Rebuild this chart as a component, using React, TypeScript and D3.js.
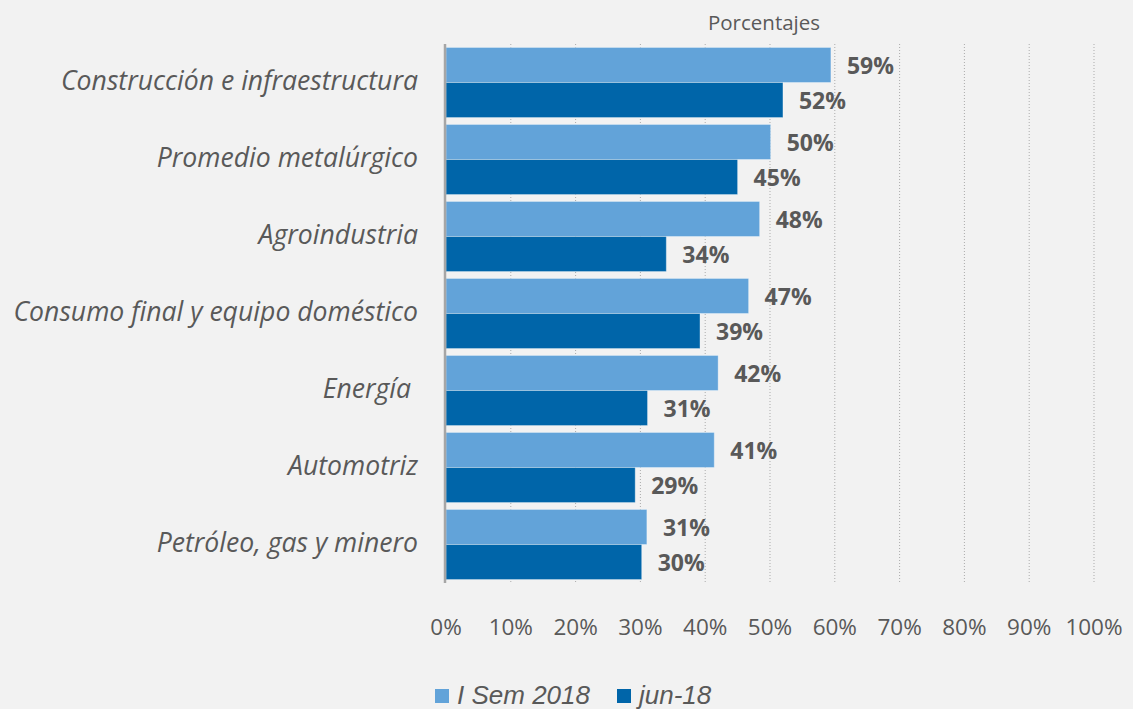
import React from 'react';
import * as d3 from 'd3';

// sectors, top to bottom
const categories = [
  'Construcción e infraestructura',
  'Promedio metalúrgico',
  'Agroindustria',
  'Consumo final y equipo doméstico',
  'Energía ',
  'Automotriz',
  'Petróleo, gas y minero',
];
const semValues = [59.4, 50.1, 48.4, 46.7, 42.0, 41.4, 31.0];
const junValues = [52.0, 45.0, 34.0, 39.2, 31.1, 29.2, 30.2];
const seriesNames = ['I Sem 2018', 'jun-18'];
const xTicks = [0, 10, 20, 30, 40, 50, 60, 70, 80, 90, 100];

const W = 1133;
const H = 709;
const colors = ['#62a3d9', '#0065a9'];
const textGray = '#595959';

export default function App() {
  const x = d3.scaleLinear().domain([0, 100]).range([446, 1094]);
  const y = d3.scaleBand<string>()
    .domain(categories)
    .range([44, 583])
    .paddingInner(0.09)
    .paddingOuter(0.045);
  const sub = d3.scaleBand<number>()
    .domain([0, 1])
    .range([0, y.bandwidth()])
    .padding(0);

  const series = [semValues, junValues];

  return (
    <div>
      <style>{`body{margin:0;background:#f2f2f2}`}</style>
      <svg width={W} height={H} style={{ display: 'block', background: '#f2f2f2' }}>
        {/* dotted gridlines */}
        {xTicks.slice(1).map(t => (
          <line key={t} x1={x(t)} x2={x(t)} y1={44} y2={583}
            stroke="#ababab" strokeWidth={1} strokeDasharray="1,2" />
        ))}

        {/* bars */}
        {categories.map((c, i) => (
          <g key={c} transform={`translate(0,${y(c)})`}>
            {series.map((vals, s) => (
              <rect key={s}
                x={x(0)}
                y={sub(s)}
                width={x(vals[i]) - x(0)}
                height={sub.bandwidth()}
                fill={colors[s]}
                stroke="rgba(255,255,255,0.35)"
                strokeWidth={1} />
            ))}
            {series.map((vals, s) => (
              <text key={'l' + s}
                x={x(vals[i]) + 16}
                y={(sub(s) ?? 0) + sub.bandwidth() / 2 + 3}
                dominantBaseline="middle"
                fontFamily="'Open Sans', sans-serif"
                fontWeight="bold"
                fontSize={23}
                fill={textGray}>
                {Math.round(vals[i])}%
              </text>
            ))}
            <text
              x={418}
              y={y.bandwidth() / 2}
              textAnchor="end"
              dominantBaseline="middle"
              fontFamily="'Open Sans', sans-serif"
              fontStyle="italic"
              fontSize={26.6}
              fill={textGray}
              style={{ whiteSpace: 'pre' }}>
              {c}
            </text>
          </g>
        ))}

        {/* vertical axis line */}
        <line x1={445} x2={445} y1={44} y2={583} stroke="#a6a6a6" strokeWidth={2.5} />

        {/* x tick labels */}
        {xTicks.map(t => (
          <text key={t} x={x(t)} y={629} textAnchor="middle" dominantBaseline="middle"
            fontFamily="'Open Sans', sans-serif" fontSize={22.5} fill={textGray}>
            {t}%
          </text>
        ))}

        <text x={764} y={25} textAnchor="middle" dominantBaseline="middle"
          fontFamily="'Open Sans', sans-serif" fontSize={20.5} fill={textGray}>
          Porcentajes
        </text>

        {/* legend */}
        {seriesNames.map((n, s) => {
          const lx = s === 0 ? 435 : 617;
          return (
            <g key={n}>
              <rect x={lx} y={689} width={14} height={14} fill={colors[s]} />
              <text x={lx + 22} y={704}
                fontFamily="'Liberation Sans', Arial, sans-serif"
                fontStyle="italic" fontSize={26} fill={textGray}>
                {n}
              </text>
            </g>
          );
        })}
      </svg>
    </div>
  );
}
